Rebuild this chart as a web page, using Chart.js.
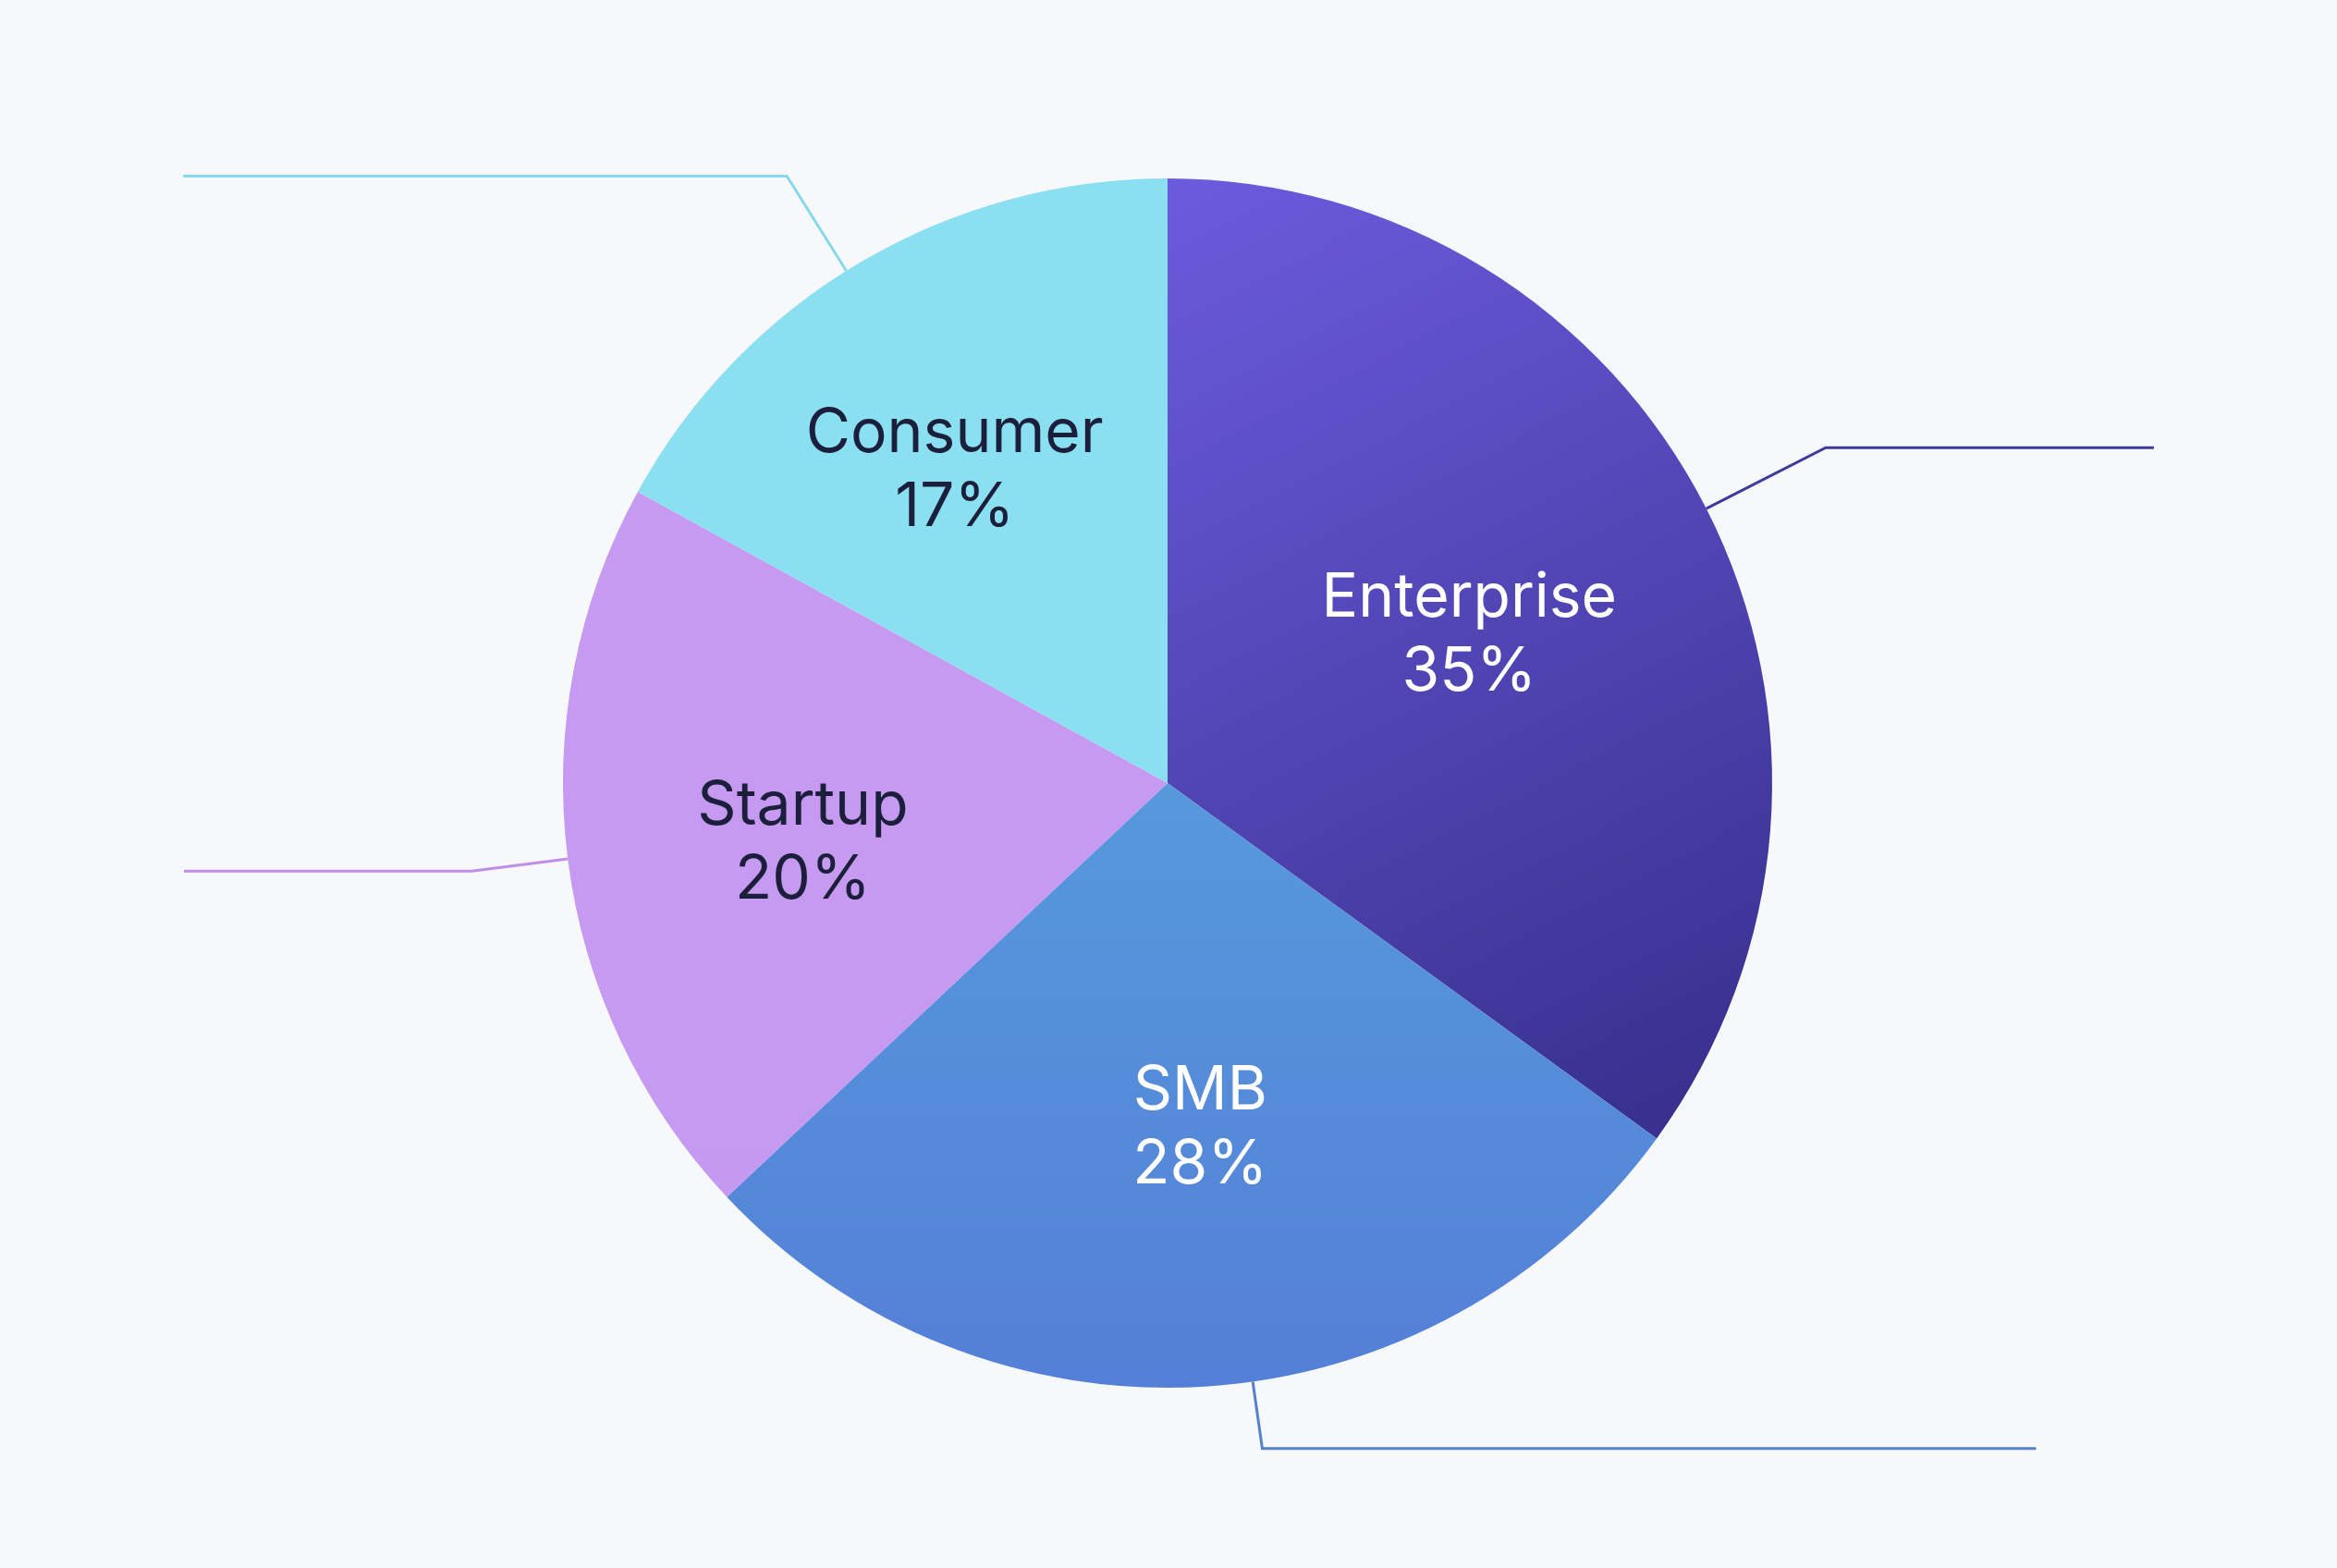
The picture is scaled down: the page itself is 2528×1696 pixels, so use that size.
<!DOCTYPE html>
<html lang="en">
<head>
<meta charset="UTF-8">
<title>Segment share</title>
<script src="https://cdn.jsdelivr.net/npm/chart.js@4/dist/chart.umd.min.js"></script>
<style>
    html, body {
        margin: 0;
        padding: 0;
        background: #f7f8fa;
    }
    #wrap {
        width: 2528px;
        height: 1696px;
    }
</style>
</head>
<body>
<div id="wrap">
    <canvas id="shareChart"></canvas>
</div>

<script>
// segment data (clockwise from 12 o'clock)
var segments = ['Enterprise', 'SMB', 'Startup', 'Consumer'];
var shares = [35, 28, 20, 17];

// slice colours: [top colour, bottom colour] of each gradient
var sliceColors = [
    ['#6c5bdd', '#38318f'],
    ['#5699db', '#547fd8'],
    ['#c69af0', '#c49af0'],
    ['#8adff1', '#88dcf0']
];
var lineColors = ['#3f3a9c', '#5580cc', '#c08ee6', '#86d8ea'];
var textColors = ['#ffffff', '#ffffff', '#1b1f3b', '#1b1f3b'];

// label distance (fraction of radius), angle nudge (deg) and leader line shape per slice
var labelRadius = [0.56, 0.563, 0.61, 0.633];
var labelNudge = [0, -1.9, -1.3, -3.2];
var leaderOut = [145, 73, 105, 121];
var leaderRun = [355, 837, 311, 653];
var leaderNudge = [0, -4.5, 0, -1.5];

var ctx = document.getElementById('shareChart').getContext('2d');

function sliceFill(context) {
    var chart = context.chart;
    var area = chart.chartArea;
    if (!area) return sliceColors[context.dataIndex][0];
    var c = sliceColors[context.dataIndex];
    var cx = (area.left + area.right) / 2;
    var cy = (area.top + area.bottom) / 2;
    var r = Math.min(area.right - area.left, area.bottom - area.top) / 2;
    var g;
    if (context.dataIndex === 0) {
        g = chart.ctx.createLinearGradient(cx, cy - r, cx + r * 0.8, cy + r * 0.55);
    } else {
        g = chart.ctx.createLinearGradient(cx, cy, cx, cy + r);
    }
    g.addColorStop(0, c[0]);
    g.addColorStop(1, c[1]);
    return g;
}

// leader lines + inside labels
var sliceDecor = {
    id: 'sliceDecor',
    afterDatasetsDraw: function(chart) {
        var c = chart.ctx;
        var arcs = chart.getDatasetMeta(0).data;
        arcs.forEach(function(arc, i) {
            var p = arc.getProps(['x', 'y', 'startAngle', 'endAngle', 'outerRadius'], true);
            var mid = (p.startAngle + p.endAngle) / 2;

            // leader
            var a = mid + leaderNudge[i] * Math.PI / 180;
            var x0 = p.x + Math.cos(a) * p.outerRadius;
            var y0 = p.y + Math.sin(a) * p.outerRadius;
            var x1 = p.x + Math.cos(a) * (p.outerRadius + leaderOut[i]);
            var y1 = p.y + Math.sin(a) * (p.outerRadius + leaderOut[i]);
            var dir = Math.cos(a) >= 0 ? 1 : -1;
            c.save();
            c.strokeStyle = lineColors[i];
            c.lineWidth = 3;
            c.lineJoin = 'miter';
            c.beginPath();
            c.moveTo(x0, y0);
            c.lineTo(x1, y1);
            c.lineTo(x1 + dir * leaderRun[i], y1);
            c.stroke();
            c.restore();

            // label
            var la = mid + labelNudge[i] * Math.PI / 180;
            var lr = p.outerRadius * labelRadius[i];
            var lx = p.x + Math.cos(la) * lr;
            var ly = p.y + Math.sin(la) * lr;
            c.save();
            c.fillStyle = textColors[i];
            c.font = '400 66px Inter, "Noto Sans", sans-serif';
            c.textAlign = 'center';
            c.textBaseline = 'alphabetic';
            c.fillText(segments[i], lx, ly - 14);
            c.fillText(shares[i] + '%', lx, ly + 66);
            c.restore();
        });
    }
};

var shareChart = new Chart(ctx, {
    type: 'pie',
    data: {
        labels: segments,
        datasets: [{
            data: shares,
            backgroundColor: sliceFill,
            borderWidth: 0,
            hoverOffset: 0
        }]
    },
    options: {
        responsive: true,
        maintainAspectRatio: false,
        animation: false,
        layout: {
            padding: { top: 193, bottom: 195, left: 0, right: 2 }
        },
        plugins: {
            legend: { display: false },
            tooltip: { enabled: false }
        }
    },
    plugins: [sliceDecor]
});
</script>

</body>
</html>
